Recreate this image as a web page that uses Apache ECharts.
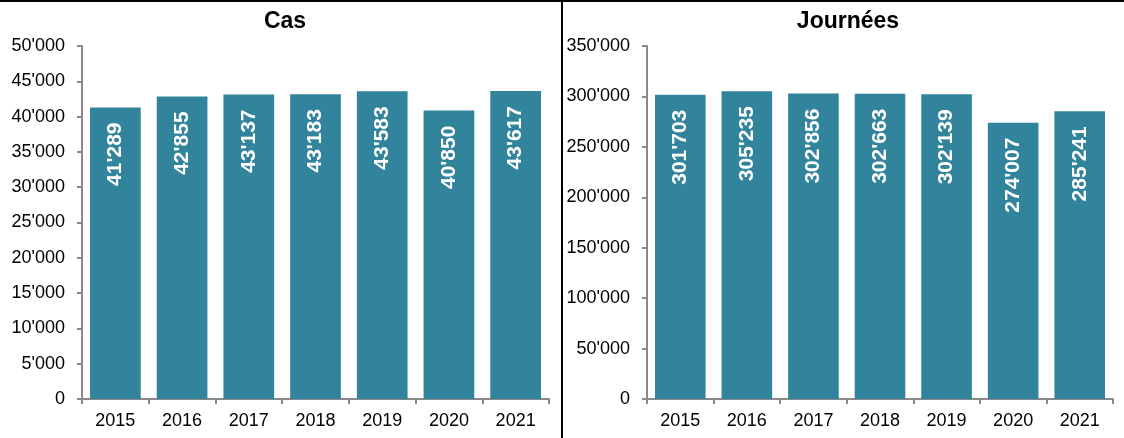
<!DOCTYPE html>
<html><head><meta charset="utf-8">
<script src="https://cdn.jsdelivr.net/npm/echarts@6/dist/echarts.min.js"></script>
<style>html,body{margin:0;padding:0;background:#fff}#c{width:1124px;height:438px}</style>
</head><body><div id="c"></div>
<script>
const years = ['2015','2016','2017','2018','2019','2020','2021'];
const casValues = [41289, 42855, 43137, 43183, 43583, 40850, 43617];
const journeesValues = [301703, 305235, 302856, 302663, 302139, 274007, 285241];
const titles = ['Cas', 'Journées'];

const FONT = "'Liberation Sans', Arial, sans-serif";
const BAR = '#31849B';
const AXIS = '#898989';
function fmt(v){ return String(Math.round(v)).replace(/\B(?=(\d{3})+(?!\d))/g, "'"); }

function xAxis(i){
  return {type:'category', gridIndex:i, data:years,
    axisLine:{lineStyle:{color:AXIS,width:2}},
    axisTick:{show:true,length:5,lineStyle:{color:AXIS,width:2},alignWithLabel:false},
    axisLabel:{color:'#000',fontSize:18,fontFamily:FONT,margin:13}};
}
function yAxis(i,max,interval){
  return {type:'value', gridIndex:i, min:0, max:max, interval:interval,
    splitLine:{show:false},
    axisLine:{show:true,lineStyle:{color:AXIS,width:2}},
    axisTick:{show:true,length:5,lineStyle:{color:AXIS,width:2}},
    axisLabel:{color:'#000',fontSize:18,fontFamily:FONT,margin:17,formatter:fmt}};
}
function series(i,data){
  return {type:'bar', xAxisIndex:i, yAxisIndex:i, data:data, barCategoryGap:'24%',
    itemStyle:{color:BAR}, silent:true,
    label:{show:true, position:'insideTop', distance:15, rotate:90, align:'right', verticalAlign:'middle',
      color:'#fff', fontWeight:'bold', fontSize:21, fontFamily:FONT,
      formatter:p=>fmt(p.value)}};
}
const chart = echarts.init(document.getElementById('c'), null, {renderer:'canvas'});
chart.setOption({
  animation:false,
  title:[
    {text:titles[0], left:280, top:5, textAlign:'center', textStyle:{fontSize:23,fontWeight:'bold',fontFamily:FONT,color:'#000'}},
    {text:titles[1], left:843, top:5, textAlign:'center', textStyle:{fontSize:23,fontWeight:'bold',fontFamily:FONT,color:'#000'}}
  ],
  grid:[
    {left:82, right:1124-549, top:46, bottom:39, containLabel:false},
    {left:647, right:1124-1113, top:46, bottom:39, containLabel:false}
  ],
  xAxis:[xAxis(0), xAxis(1)],
  yAxis:[yAxis(0,50000,5000), yAxis(1,350000,50000)],
  series:[series(0,casValues), series(1,journeesValues)],
  graphic:[
    {type:'rect', shape:{x:0,y:0,width:1124,height:2}, style:{fill:'#000'}},
    {type:'rect', shape:{x:561,y:0,width:2,height:438}, style:{fill:'#000'}}
  ]
});
</script></body></html>
